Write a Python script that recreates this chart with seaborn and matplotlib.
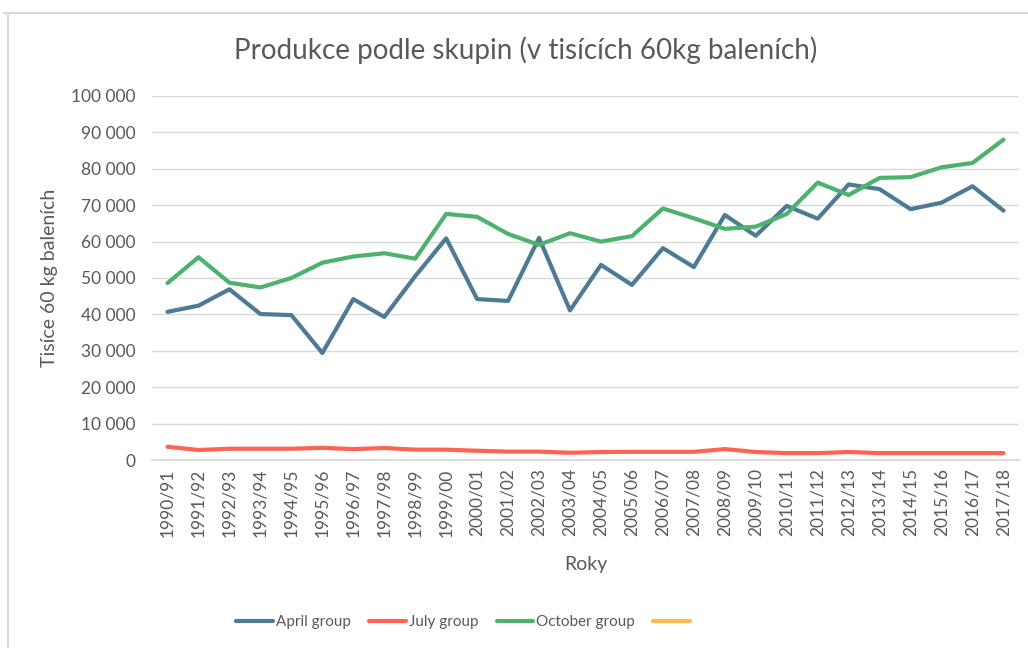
import matplotlib.pyplot as plt
import matplotlib.ticker as mticker
from matplotlib.lines import Line2D
import seaborn as sns
import pandas as pd

# Data
roky = ['1990/91', '1991/92', '1992/93', '1993/94', '1994/95', '1995/96', '1996/97',
        '1997/98', '1998/99', '1999/00', '2000/01', '2001/02', '2002/03', '2003/04',
        '2004/05', '2005/06', '2006/07', '2007/08', '2008/09', '2009/10', '2010/11',
        '2011/12', '2012/13', '2013/14', '2014/15', '2015/16', '2016/17', '2017/18']

april = [40700, 42400, 46900, 40100, 39800, 29400, 44200, 39300, 50500, 60900,
         44200, 43700, 61000, 41100, 53600, 48100, 58200, 53000, 67300, 61600,
         69800, 66300, 75700, 74400, 68900, 70700, 75200, 68500]

july = [3650, 2750, 3100, 3100, 3100, 3350, 3000, 3300, 2850, 2850,
        2550, 2300, 2300, 2000, 2200, 2250, 2250, 2250, 3000, 2200,
        1900, 1900, 2200, 1900, 1900, 1900, 1900, 1900]

october = [48600, 55700, 48700, 47400, 50000, 54200, 55900, 56800, 55300, 67600,
           66800, 62100, 59100, 62300, 60000, 61500, 69100, 66400, 63500, 64100,
           67600, 76200, 72800, 77500, 77700, 80400, 81600, 88000]

skupiny = ['April group', 'July group', 'October group']
barvy = {'April group': '#4D7A94', 'July group': '#FF6352', 'October group': '#4CB26E'}
barva_prazdna = '#FFB84D'

df = pd.DataFrame({'Roky': roky, 'April group': april, 'July group': july,
                   'October group': october})
df['pos'] = range(len(roky))
df_long = df.melt(id_vars=['Roky', 'pos'], value_vars=skupiny,
                  var_name='Skupina', value_name='Hodnota')

sns.set_theme(style='white')
plt.rcParams['font.family'] = ['Lato', 'DejaVu Sans']

fig = plt.figure(figsize=(10.28, 6.48), dpi=100)
ax = fig.add_axes([0.1479, 0.2901, 0.8433, 0.5618])

sns.lineplot(data=df_long, x='pos', y='Hodnota', hue='Skupina', hue_order=skupiny,
             palette=barvy, linewidth=3, ax=ax, legend=False,
             solid_capstyle='round', solid_joinstyle='round')

ax.set_xlim(-0.5, len(roky) - 0.5)
ax.set_ylim(0, 100000)
ax.yaxis.set_major_locator(mticker.MultipleLocator(10000))
ax.yaxis.set_major_formatter(mticker.FuncFormatter(lambda v, p: f'{int(v):,}'.replace(',', ' ')))
ax.set_xticks(df['pos'])
ax.set_xticklabels(roky, rotation=90)

ax.grid(axis='y', color='#D9D9D9', linewidth=1)
ax.set_axisbelow(True)
for s in ['top', 'right', 'left']:
    ax.spines[s].set_visible(False)
ax.spines['bottom'].set_color('#D9D9D9')
ax.tick_params(axis='both', length=0, labelsize=12.5, labelcolor='#595959')
ax.tick_params(axis='y', pad=12)
ax.tick_params(axis='x', pad=6)

ax.set_xlabel('Roky', fontsize=14, color='#595959', labelpad=14)
ax.set_ylabel('Tisíce 60 kg baleních', fontsize=14, color='#595959', labelpad=9)
fig.text(0.511, 0.923, 'Produkce podle skupin (v tisících 60kg baleních)',
         ha='center', va='center', fontsize=20, color='#595959')

handles = [Line2D([], [], color=barvy[s], linewidth=3, solid_capstyle='round') for s in skupiny]
handles.append(Line2D([], [], color=barva_prazdna, linewidth=3, solid_capstyle='round'))
fig.legend(handles, skupiny + [''], loc='center', bbox_to_anchor=(0.452, 0.04), ncol=4,
           frameon=False, fontsize=11, labelcolor='#595959', handlelength=2.4,
           handletextpad=0.2, columnspacing=1.2)

# Chart frame (only top and left edges visible in the crop)
fig.add_artist(Line2D([4 / 1028, 1], [1 - 13 / 648, 1 - 13 / 648], color='#D9D9D9', linewidth=1.5))
fig.add_artist(Line2D([8 / 1028, 8 / 1028], [0, 1 - 13 / 648], color='#D9D9D9', linewidth=1.5))

fig.savefig('out.png', dpi=100, facecolor='white')
